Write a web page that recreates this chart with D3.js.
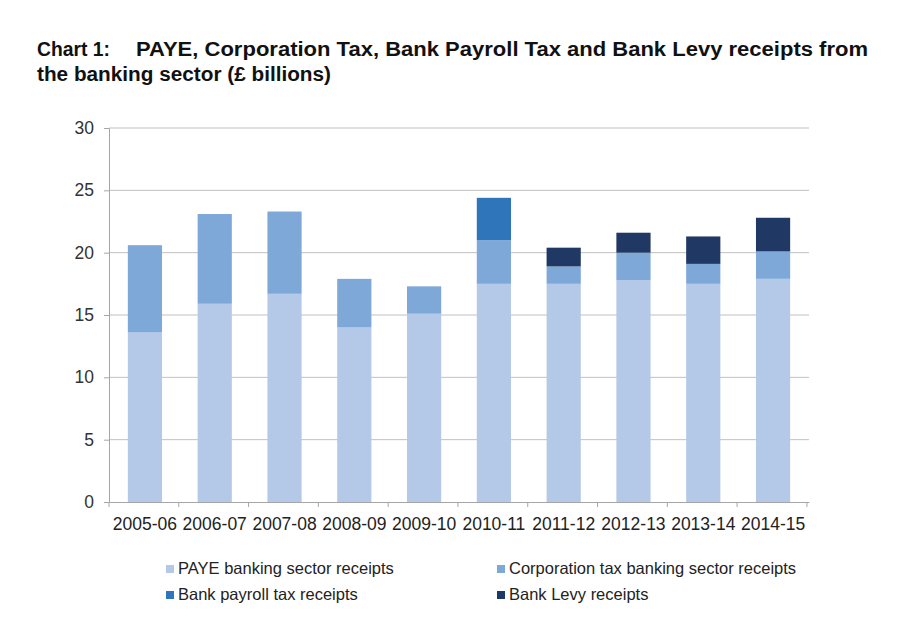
<!DOCTYPE html>
<html><head><meta charset="utf-8">
<script src="https://cdn.jsdelivr.net/npm/d3@7"></script>
<style>
body{margin:0;background:#fff;}
text{font-family:"Liberation Sans",Arial,sans-serif;}
</style></head>
<body><svg id="c" width="900" height="638"></svg>
<script>
const categories = ["2005-06","2006-07","2007-08","2008-09","2009-10","2010-11","2011-12","2012-13","2013-14","2014-15"];
const paye = [13.6,15.9,16.7,14.0,15.1,17.5,17.5,17.8,17.5,17.9];
const corpTax = [7.0,7.2,6.6,3.9,2.2,3.5,1.4,2.2,1.6,2.2];
const bankPayroll = [0,0,0,0,0,3.4,0,0,0,0];
const bankLevy = [0,0,0,0,0,0,1.5,1.6,2.2,2.7];
const seriesNames = ["PAYE banking sector receipts","Corporation tax banking sector receipts","Bank payroll tax receipts","Bank Levy receipts"];
const yTicks = [0,5,10,15,20,25,30];
const colors = ["#b4c9e7","#7da8d8","#2e76b9","#1f3864"];

const svg = d3.select("#c");
const m = {l:109, r:809, t:128, b:502};
const x = d3.scaleBand().domain(categories).range([m.l,m.r]).paddingInner(0.51).paddingOuter(0.27);
const y = d3.scaleLinear().domain([0,30]).range([m.b,m.t]);

// title
const tg = svg.append("g").attr("font-size",20).attr("font-weight","bold").attr("fill","#111");
tg.append("text").attr("x",37).attr("y",56).attr("textLength",73).attr("lengthAdjust","spacingAndGlyphs").text("Chart 1:");
tg.append("text").attr("x",136).attr("y",56).attr("textLength",732).attr("lengthAdjust","spacingAndGlyphs").text("PAYE, Corporation Tax, Bank Payroll Tax and Bank Levy receipts from");
tg.append("text").attr("x",37).attr("y",81).attr("textLength",294).attr("lengthAdjust","spacingAndGlyphs").text("the banking sector (£ billions)");

// gridlines
svg.append("g").selectAll("line").data(yTicks.filter(d=>d>0)).join("line")
  .attr("x1",m.l).attr("x2",m.r).attr("y1",d=>y(d)).attr("y2",d=>y(d))
  .attr("stroke","#c0c0c0").attr("stroke-width",1);

// stacked bars
const rows = categories.map((c,i)=>({cat:c, s0:paye[i], s1:corpTax[i], s2:bankPayroll[i], s3:bankLevy[i]}));
const stack = d3.stack().keys(["s0","s1","s2","s3"])(rows);
svg.append("g").selectAll("g").data(stack).join("g").attr("fill",(d,i)=>colors[i])
  .selectAll("rect").data(d=>d.filter(v=>v[1]-v[0]>0)).join("rect")
  .attr("x",d=>x(d.data.cat)).attr("width",x.bandwidth())
  .attr("y",d=>y(d[1])).attr("height",d=>y(d[0])-y(d[1]));

// y axis
const ya = d3.axisLeft(y).tickValues(yTicks).tickSize(5).tickPadding(10);
const yg = svg.append("g").attr("transform",`translate(${m.l},0)`).call(ya);
yg.select(".domain").attr("stroke","#a6a6a6");
yg.selectAll(".tick line").attr("stroke","#a6a6a6");
yg.selectAll(".tick text").attr("font-size",17.5).attr("fill","#333").attr("font-family","Liberation Sans, Arial, sans-serif");

// x axis
const xa = d3.axisBottom(x).tickSize(0).tickPadding(16);
const xg = svg.append("g").attr("transform",`translate(0,${m.b})`).call(xa);
xg.select(".domain").attr("stroke","#a6a6a6");
xg.selectAll(".tick text").attr("font-size",17.5).attr("fill","#222").attr("font-family","Liberation Sans, Arial, sans-serif");
const step = x.step();
xg.selectAll(".sep").data(d3.range(categories.length+1)).join("line").attr("class","sep")
  .attr("x1",i=>m.l+i*step).attr("x2",i=>m.l+i*step).attr("y1",0).attr("y2",5).attr("stroke","#a6a6a6");

// legend
const legPos = [[166,574],[497,574],[166,600],[497,600]];
const lg = svg.append("g").selectAll("g").data(seriesNames).join("g")
  .attr("transform",(d,i)=>`translate(${legPos[i][0]},${legPos[i][1]})`);
lg.append("rect").attr("x",0).attr("y",-9).attr("width",8).attr("height",8).attr("fill",(d,i)=>colors[i]);
lg.append("text").attr("x",12).attr("y",0).attr("font-size",16.5).attr("fill","#222").text(d=>d);
</script></body></html>
